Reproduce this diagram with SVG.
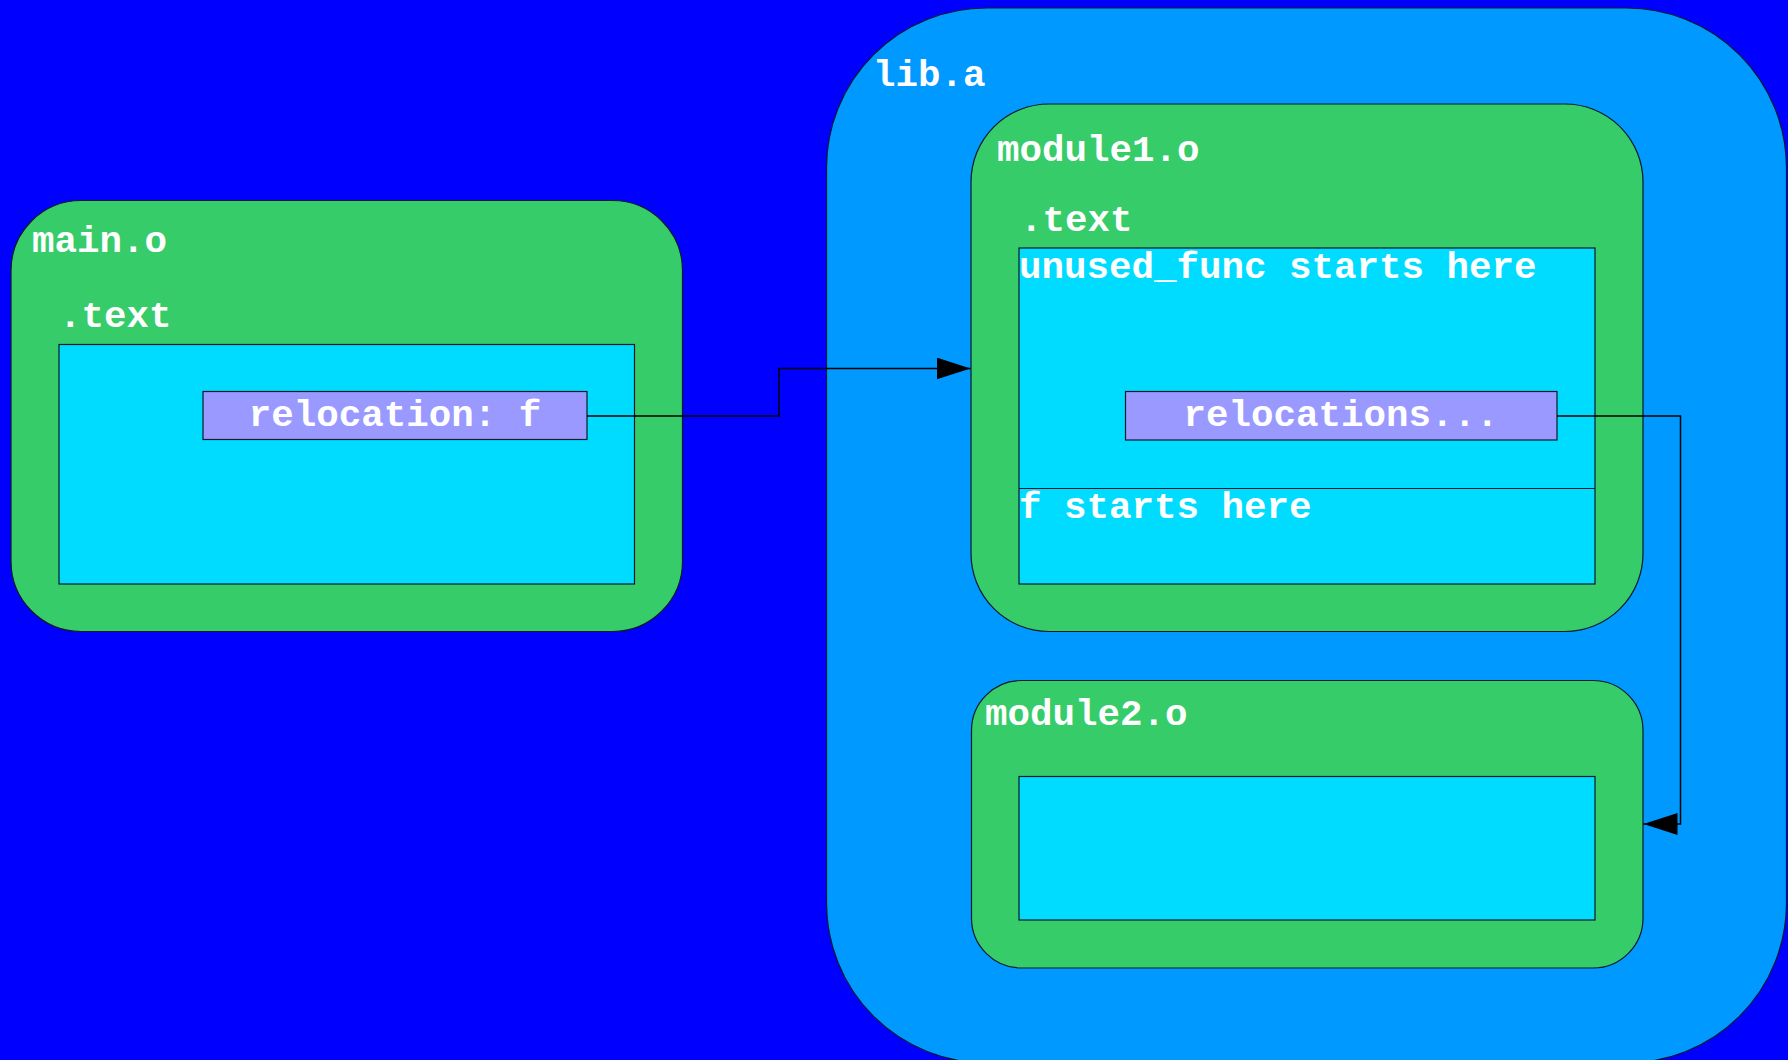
<svg xmlns="http://www.w3.org/2000/svg" width="1788" height="1060" viewBox="0 0 1788 1060">
<style>
.lbl{font-family:"Liberation Mono","DejaVu Sans Mono",monospace;font-weight:bold;font-size:37.5px;fill:#ffffff}
.c{text-anchor:middle}
.obj{fill:#35cc69;stroke:#0a1a2a;stroke-width:1.2}
.sec{fill:#00dcff;stroke:#0a1a2a;stroke-width:1.2}
.rel{fill:#9999ff;stroke:#0a1a2a;stroke-width:1.2}
.conn{fill:none;stroke:#000;stroke-width:1.5}
</style>
<defs>
<marker id="arr" markerUnits="userSpaceOnUse" markerWidth="36" markerHeight="24" refX="34" refY="11" orient="auto">
<path d="M0,0 L34,11 L0,22 Z" fill="#000"/>
</marker>
</defs>
<rect x="0" y="0" width="1788" height="1060" fill="#0000ff"/>
<g id="lib_a">
<rect x="826.5" y="8" width="960" height="1055" rx="160" ry="160" fill="#0099ff" stroke="#0a1a2a" stroke-width="1.2"/>
<text class="lbl" x="873" y="86">lib.a</text>
</g>
<g id="main_o">
<rect class="obj" x="11" y="200.5" width="671.5" height="431" rx="70" ry="70"/>
<text class="lbl" x="32" y="252">main.o</text>
<text class="lbl" x="59" y="327">.text</text>
<rect class="sec" x="59" y="344.5" width="575.5" height="239.5"/>
</g>
<g id="main_reloc">
<rect class="rel" x="203" y="391.5" width="384" height="48"/>
<text class="lbl c" x="395" y="426">relocation: f</text>
</g>
<g id="module1_o">
<rect class="obj" x="971" y="104" width="672" height="527.5" rx="78" ry="78"/>
<text class="lbl" x="997" y="161">module1.o</text>
<text class="lbl" x="1020" y="231">.text</text>
<rect class="sec" x="1019" y="248" width="576" height="336"/>
<line x1="1019" y1="488.5" x2="1595" y2="488.5" stroke="#0a1a2a" stroke-width="1.2"/>
<text class="lbl" x="1019" y="278">unused_func starts here</text>
<text class="lbl" x="1019" y="518">f starts here</text>
</g>
<g id="module1_reloc">
<rect class="rel" x="1125.5" y="391.5" width="431.5" height="48.5"/>
<text class="lbl c" x="1341" y="426">relocations...</text>
</g>
<g id="module2_o">
<rect class="obj" x="971.5" y="680.5" width="671.5" height="287.5" rx="50" ry="50"/>
<text class="lbl" x="985" y="725">module2.o</text>
<rect class="sec" x="1019" y="776.5" width="576" height="143.5"/>
</g>
<g id="connectors">
<polyline class="conn" points="587,416 779,416 779,368.5 970.5,368.5" marker-end="url(#arr)"/>
<polyline class="conn" points="1557,416 1680.5,416 1680.5,824 1643.5,824" marker-end="url(#arr)"/>
</g>
</svg>
